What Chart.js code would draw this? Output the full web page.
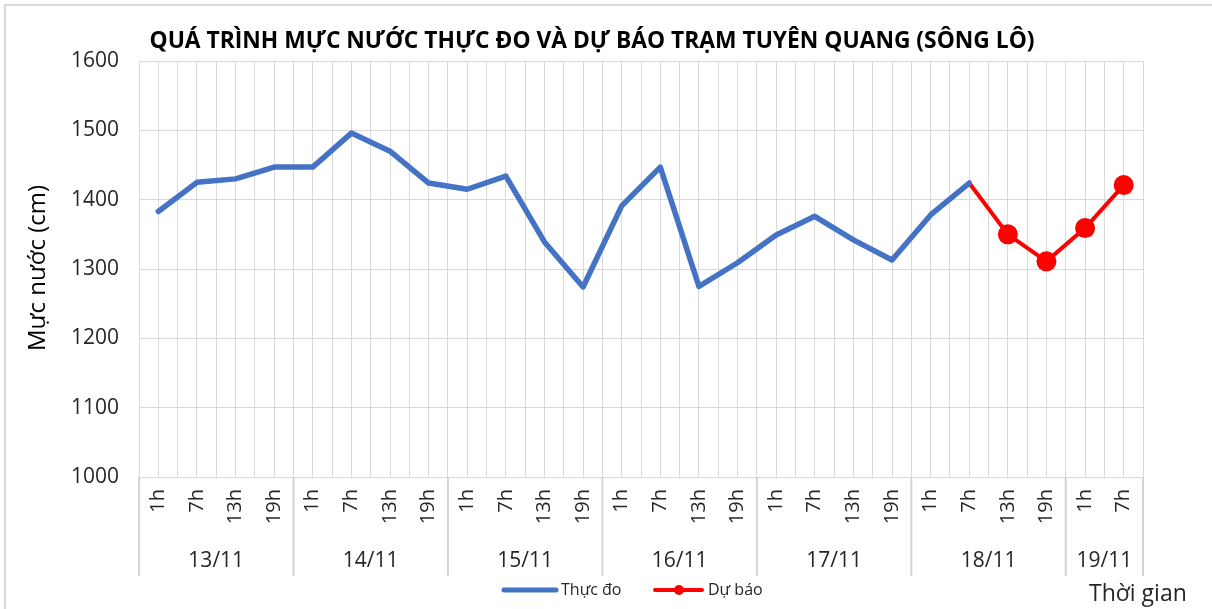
<!DOCTYPE html>
<html><head><meta charset="utf-8">
<script src="https://cdn.jsdelivr.net/npm/chart.js@4.4.0/dist/chart.umd.min.js"></script>
<style>html,body{margin:0;padding:0;background:#fff}#wrap{width:1212px;height:609px;position:relative}</style>
</head><body><div id="wrap"><canvas id="c" width="1212" height="609"></canvas></div>
<script>
const hours = ['1h','7h','13h','19h','1h','7h','13h','19h','1h','7h','13h','19h','1h','7h','13h','19h','1h','7h','13h','19h','1h','7h','13h','19h','1h','7h'];
const days = ['13/11','14/11','15/11','16/11','17/11','18/11','19/11'];
const hoursPerDay = [4,4,4,4,4,4,2];
const measured = [1383,1425,1430,1447,1447,1496,1470,1424,1415,1434,1339,1274,1391,1447,1275,1309,1349,1376,1342,1313,1378,1424,null,null,null,null];
const forecast = [null,null,null,null,null,null,null,null,null,null,null,null,null,null,null,null,null,null,null,null,null,1424,1350,1311,1359,1421];
const yMin = 1000, yMax = 1600, yStep = 100;
const titleText = 'QUÁ TRÌNH MỰC NƯỚC THỰC ĐO VÀ DỰ BÁO TRẠM TUYÊN QUANG (SÔNG LÔ)';
const yTitle = 'Mực nước (cm)';
const xTitle = 'Thời gian';
const seriesNames = ['Thực đo','Dự báo'];

const FONT = '"Open Sans", "Noto Sans", sans-serif';
const TXT = '#262626';
const GRID = '#d9d9d9';

const extras = {
  id: 'extras',
  afterDraw(chart) {
    const ctx = chart.ctx, x = chart.scales.x;
    ctx.save();
    ctx.strokeStyle = '#d9d9d9'; ctx.lineWidth = 2;
    ctx.strokeRect(5, 5, 1215, 615);
    ctx.fillStyle = '#000'; ctx.font = 'bold 24px ' + FONT;
    ctx.textAlign = 'center'; ctx.textBaseline = 'alphabetic';
    ctx.fillText(titleText, 592, 48, 885);
    ctx.save();
    ctx.translate(38, 268); ctx.rotate(-Math.PI/2);
    ctx.fillStyle = '#000'; ctx.font = '24px ' + FONT; ctx.textBaseline = 'middle';
    ctx.fillText(yTitle, 0, 0);
    ctx.restore();
    const step = x.getPixelForValue(1) - x.getPixelForValue(0);
    let idx = 0;
    ctx.strokeStyle = '#d4d4d4'; ctx.lineWidth = 2;
    ctx.font = '21px ' + FONT; ctx.fillStyle = TXT; ctx.textBaseline = 'middle';
    const top = chart.chartArea.bottom, bot = 576;
    for (let d = 0; d < days.length; d++) {
      const n = hoursPerDay[d];
      const l = x.getPixelForValue(idx) - step/2;
      const r = x.getPixelForValue(idx + n - 1) + step/2;
      ctx.beginPath(); ctx.moveTo(l, top); ctx.lineTo(l, bot); ctx.stroke();
      if (d === days.length - 1) { ctx.beginPath(); ctx.moveTo(r, top); ctx.lineTo(r, bot); ctx.stroke(); }
      ctx.fillText(days[d], (l + r)/2, 561);
      idx += n;
    }
    ctx.lineCap = 'round';
    ctx.strokeStyle = '#4472C4'; ctx.lineWidth = 5;
    ctx.beginPath(); ctx.moveTo(504, 590); ctx.lineTo(556, 590); ctx.stroke();
    ctx.strokeStyle = '#FF0000'; ctx.lineWidth = 4;
    ctx.beginPath(); ctx.moveTo(655, 590); ctx.lineTo(702, 590); ctx.stroke();
    ctx.fillStyle = '#FF0000'; ctx.beginPath(); ctx.arc(679, 590, 5, 0, Math.PI*2); ctx.fill();
    ctx.fillStyle = TXT; ctx.font = '16px ' + FONT; ctx.textAlign = 'left'; ctx.textBaseline = 'middle';
    ctx.fillText(seriesNames[0], 561, 590);
    ctx.fillText(seriesNames[1], 708, 590);
    ctx.font = '23px ' + FONT; ctx.textAlign = 'left'; ctx.textBaseline = 'alphabetic';
    ctx.fillText(xTitle, 1089, 601);
    ctx.restore();
  }
};

new Chart(document.getElementById('c'), {
  type: 'line',
  data: {
    labels: hours,
    datasets: [
      { label: seriesNames[0], data: measured, borderColor: '#4472C4', backgroundColor: '#4472C4', borderWidth: 5.5, pointRadius: 0, tension: 0, spanGaps: false, borderJoinStyle: 'round', borderCapStyle: 'round' },
      { label: seriesNames[1], data: forecast, borderColor: '#FF0000', backgroundColor: '#FF0000', borderWidth: 4, pointRadius: forecast.map((v, i) => i === 21 ? 0 : 10), pointBorderWidth: 0, pointBackgroundColor: '#FF0000', tension: 0, borderJoinStyle: 'round' }
    ]
  },
  options: {
    responsive: false, animation: false, devicePixelRatio: 1,
    layout: { padding: { top: 61, right: 69, bottom: 32, left: 0 } },
    plugins: { legend: { display: false }, title: { display: false }, tooltip: { enabled: false } },
    scales: {
      x: {
        type: 'category', offset: true,
        grid: { color: GRID, drawTicks: false, offset: true },
        border: { color: GRID },
        ticks: { autoSkip: false, minRotation: 90, maxRotation: 90, padding: 12, color: TXT, font: { family: FONT, size: 20 } },
        afterFit: s => { s.height = 100; }
      },
      x2: {
        type: 'category', position: 'top', offset: true, labels: hours,
        grid: { color: GRID, drawTicks: false, offset: false },
        border: { display: false },
        ticks: { display: false },
        afterFit: s => { s.height = 0; }
      },
      y: {
        min: yMin, max: yMax,
        grid: { color: GRID, drawTicks: false },
        border: { color: GRID },
        ticks: { stepSize: yStep, padding: 20, color: TXT, font: { family: FONT, size: 21 }, callback: v => String(v) },
        afterFit: s => { s.width = 139; }
      }
    }
  },
  plugins: [extras]
});
</script></body></html>
